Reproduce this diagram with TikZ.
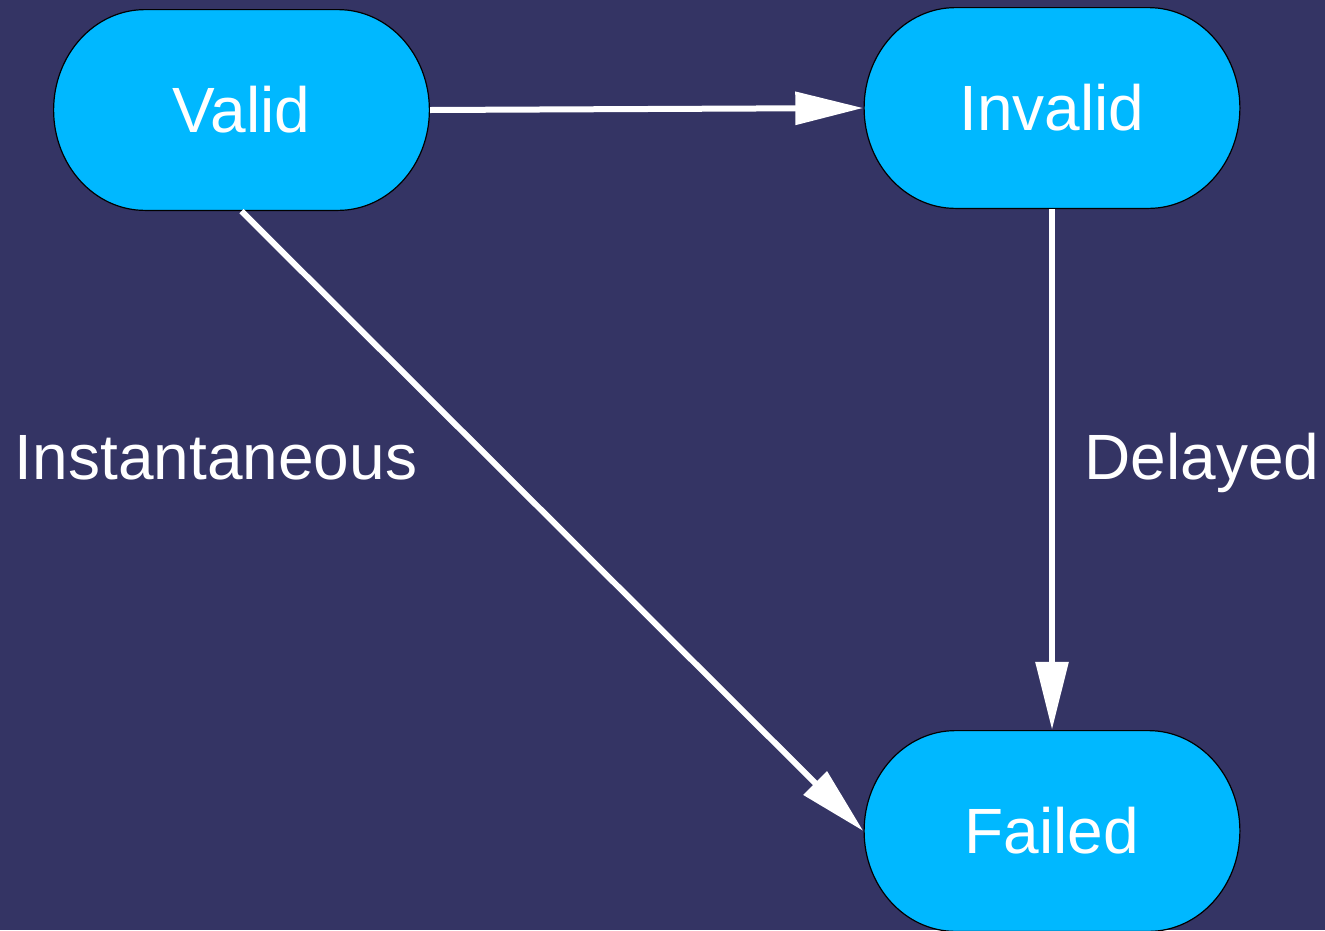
\documentclass[tikz,border=0pt]{standalone}
\usepackage{fontspec}
\setmainfont{Liberation Sans}
\usetikzlibrary{arrows.meta}
\definecolor{bgcol}{RGB}{52,52,100}
\definecolor{statecol}{RGB}{0,184,255}
\tikzset{
  state/.style={rectangle, inner sep=0pt, minimum width=377pt, minimum height=202pt,
    text=white, font=\fontsize{64pt}{70pt}\selectfont,
    path picture={
      \path[fill=statecol, draw=black, line width=1.2pt]
        ([xshift=92pt,yshift=-0.6pt]path picture bounding box.north west)
        -- ([xshift=-92pt,yshift=-0.6pt]path picture bounding box.north east)
        arc[start angle=90, end angle=-90, x radius=91.4pt, y radius=100.4pt]
        -- ([xshift=92pt,yshift=0.6pt]path picture bounding box.south west)
        arc[start angle=270, end angle=90, x radius=91.4pt, y radius=100.4pt]
        -- cycle;
    }},
  lbl/.style={text=white, font=\fontsize{64pt}{70pt}\selectfont, inner sep=0pt},
  conn/.style={draw=white, line width=6pt, -{Triangle[length=68pt,width=32pt]}}
}
\begin{document}
\begin{tikzpicture}[x=1pt,y=-1pt]
  \fill[bgcol] (0,0) rectangle (1325,930);
  \useasboundingbox (0,0) rectangle (1325,930);
  \node[state] (valid) at (241.5,110) {Valid};
  \node[state] (invalid) at (1052,108) {Invalid};
  \node[state] (failed) at (1052,831) {Failed};
  \node[lbl] (inst) at (216,458) {Instantaneous};
  \node[lbl] (del) at (1202,463) {Delayed};
  \draw[conn] (valid.east) -- (invalid.west);
  \draw[conn] (valid.south) -- (failed.west);
  \draw[conn] (invalid.south) -- (failed.north);
\end{tikzpicture}
\end{document}
